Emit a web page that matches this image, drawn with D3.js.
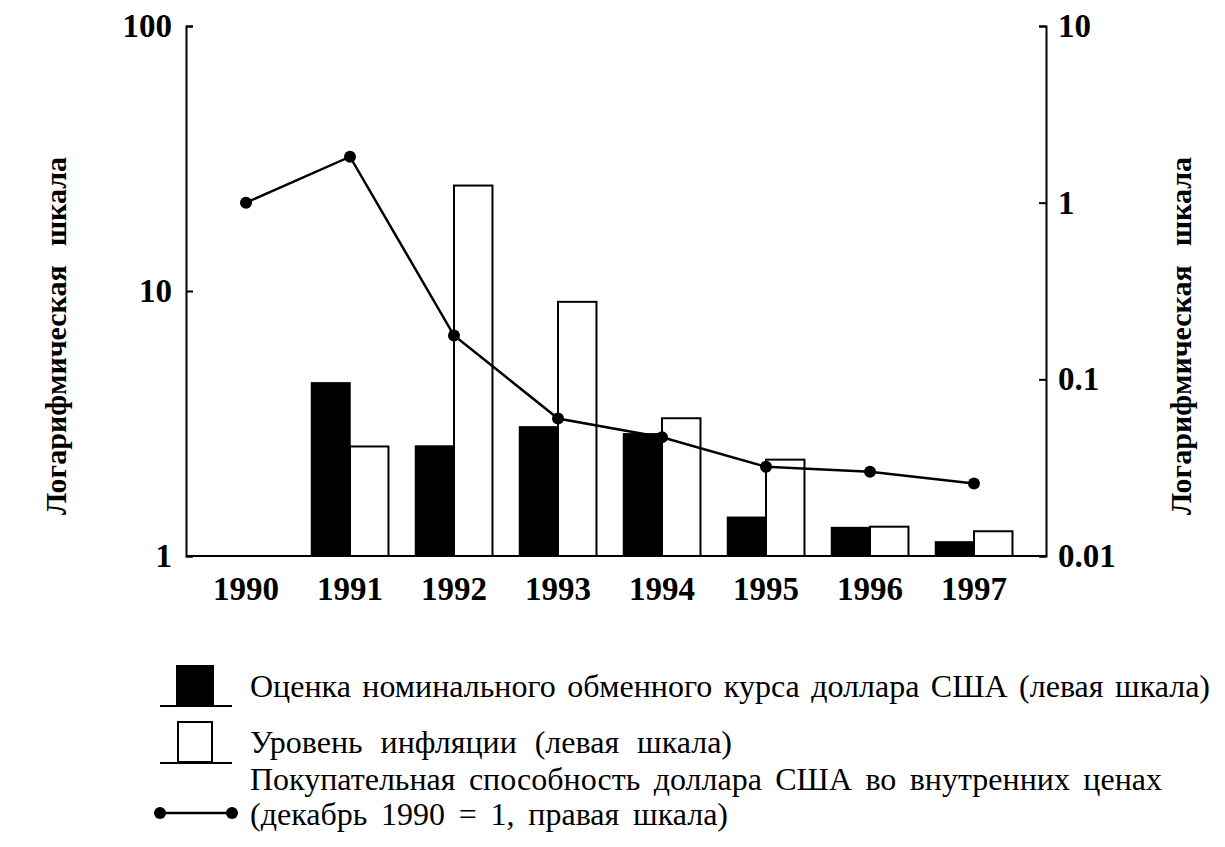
<!DOCTYPE html>
<html>
<head>
<meta charset="utf-8">
<script src="https://cdn.jsdelivr.net/npm/d3@7"></script>
<style>
  body { margin: 0; background: #fff; }
  .axis path, .axis line { stroke: #000; stroke-width: 2px; }
</style>
</head>
<body>
<svg width="1225" height="847"></svg>
<script>
// years on the x axis
var years = ["1990", "1991", "1992", "1993", "1994", "1995", "1996", "1997"];
// nominal dollar exchange rate estimate (left scale), 1990 has no bar
var exchangeRate = [null, 4.5, 2.6, 3.07, 2.89, 1.40, 1.28, 1.13];
// inflation level (left scale)
var inflation = [null, 2.59, 25, 9.1, 3.31, 2.31, 1.29, 1.24];
// purchasing power of the dollar in domestic prices (right scale, Dec 1990 = 1)
var purchasingPower = [1.0, 1.82, 0.177, 0.06, 0.047, 0.032, 0.030, 0.0257];
// tick labels
var leftTicks = [1, 10, 100];
var rightTicks = [0.01, 0.1, 1, 10];
var axisTitle = "Логарифмическая шкала";
var legendLabels = [
    "Оценка номинального обменного курса доллара США (левая шкала)",
    "Уровень инфляции (левая шкала)",
    "Покупательная способность доллара США во внутренних ценах",
    "(декабрь 1990 = 1, правая шкала)"
];

var serif = "'Liberation Serif'";

var svg = d3.select("svg");

var x = d3.scaleBand().domain(years).range([194, 1026]).paddingInner(0.26).paddingOuter(0.13);
var yL = d3.scaleLog().domain([1, 100]).range([556, 26]);
var yR = d3.scaleLog().domain([0.01, 10]).range([556, 26]);

var left = 186, right = 1046, base = 556;

// bars
var g = svg.append("g");
var bw = x.bandwidth() / 2;

g.selectAll(".bar-black")
    .data(years.filter(function(d, i) { return exchangeRate[i] != null; }))
    .enter().append("rect")
    .attr("class", "bar-black")
    .attr("x", function(d) { return x(d); })
    .attr("y", function(d) { return yL(exchangeRate[years.indexOf(d)]); })
    .attr("width", bw)
    .attr("height", function(d) { return base - yL(exchangeRate[years.indexOf(d)]); })
    .attr("fill", "#000")
    .attr("stroke", "#000")
    .attr("stroke-width", 1.5);

g.selectAll(".bar-white")
    .data(years.filter(function(d, i) { return inflation[i] != null; }))
    .enter().append("rect")
    .attr("class", "bar-white")
    .attr("x", function(d) { return x(d) + bw; })
    .attr("y", function(d) { return yL(inflation[years.indexOf(d)]); })
    .attr("width", bw)
    .attr("height", function(d) { return base - yL(inflation[years.indexOf(d)]); })
    .attr("fill", "#fff")
    .attr("stroke", "#000")
    .attr("stroke-width", 2);

// axes
function styleTicks(sel) {
    sel.attr("font-family", null).attr("font-size", null);
    sel.selectAll("text")
        .style("font-family", serif)
        .style("font-size", "33px")
        .style("font-weight", "bold")
        .attr("fill", "#000");
}

svg.append("g")
    .attr("class", "axis")
    .attr("transform", "translate(" + left + ",0)")
    .call(d3.axisLeft(yL).tickValues(leftTicks).tickFormat(d3.format("d")).tickSize(-7).tickPadding(14))
    .call(styleTicks);

svg.append("g")
    .attr("class", "axis")
    .attr("transform", "translate(" + right + ",0)")
    .call(d3.axisRight(yR).tickValues(rightTicks).tickFormat(function(d) { return String(d); }).tickSize(-7).tickPadding(12))
    .call(styleTicks);

svg.append("line")
    .attr("x1", left).attr("x2", right)
    .attr("y1", base).attr("y2", base)
    .attr("stroke", "#000").attr("stroke-width", 2);

svg.append("g")
    .selectAll("text")
    .data(years)
    .enter().append("text")
    .attr("x", function(d) { return x(d) + x.bandwidth() / 2; })
    .attr("y", 600)
    .attr("text-anchor", "middle")
    .style("font-family", serif)
    .style("font-size", "33px")
    .style("font-weight", "bold")
    .text(function(d) { return d; });

// purchasing power line
var line = d3.line()
    .x(function(d, i) { return x(years[i]) + x.bandwidth() / 2; })
    .y(function(d) { return yR(d); });

svg.append("path")
    .datum(purchasingPower)
    .attr("d", line)
    .attr("fill", "none")
    .attr("stroke", "#000")
    .attr("stroke-width", 2.5);

svg.selectAll(".dot")
    .data(purchasingPower)
    .enter().append("circle")
    .attr("class", "dot")
    .attr("cx", function(d, i) { return x(years[i]) + x.bandwidth() / 2; })
    .attr("cy", function(d) { return yR(d); })
    .attr("r", 6)
    .attr("fill", "#000");

// words as tspans, extra gap between them so the line fills the wanted width
function spreadWords(textSel, str, width) {
    var words = str.split(" ");
    textSel.selectAll("tspan").data(words).enter().append("tspan")
        .text(function(d, i) { return (i ? " " : "") + d; });
    var natural = textSel.node().getComputedTextLength();
    var gap = words.length > 1 ? Math.max(0, (width - natural) / (words.length - 1)) : 0;
    textSel.selectAll("tspan").attr("dx", function(d, i) { return i ? gap : 0; });
}

// axis titles
[55, 1180].forEach(function(cx) {
    var t = svg.append("text")
        .attr("transform", "translate(" + (cx + 11) + ",515) rotate(-90)")
        .style("font-family", serif)
        .style("font-size", "30px")
        .style("font-weight", "bold");
    spreadWords(t, axisTitle, 358);
});

// legend
var lg = svg.append("g");

lg.append("rect").attr("x", 176).attr("y", 665).attr("width", 38).attr("height", 40).attr("fill", "#000");
lg.append("line").attr("x1", 160).attr("x2", 232).attr("y1", 706).attr("y2", 706).attr("stroke", "#000").attr("stroke-width", 2);

lg.append("rect").attr("x", 178).attr("y", 722).attr("width", 34).attr("height", 40).attr("fill", "#fff").attr("stroke", "#000").attr("stroke-width", 2);
lg.append("line").attr("x1", 160).attr("x2", 232).attr("y1", 763).attr("y2", 763).attr("stroke", "#000").attr("stroke-width", 2);

lg.append("line").attr("x1", 160).attr("x2", 232).attr("y1", 813).attr("y2", 813).attr("stroke", "#000").attr("stroke-width", 2.5);
lg.selectAll(".ldot").data([160, 232]).enter().append("circle")
    .attr("cx", function(d) { return d; }).attr("cy", 813).attr("r", 6).attr("fill", "#000");

var legendY = [697, 753, 790, 825];
var legendW = [960, 482, 912, 478];
legendLabels.forEach(function(label, i) {
    var t = lg.append("text")
        .attr("x", 250)
        .attr("y", legendY[i])
        .style("font-family", serif)
        .style("font-size", "32px");
    spreadWords(t, label, legendW[i]);
});
</script>
</body>
</html>
